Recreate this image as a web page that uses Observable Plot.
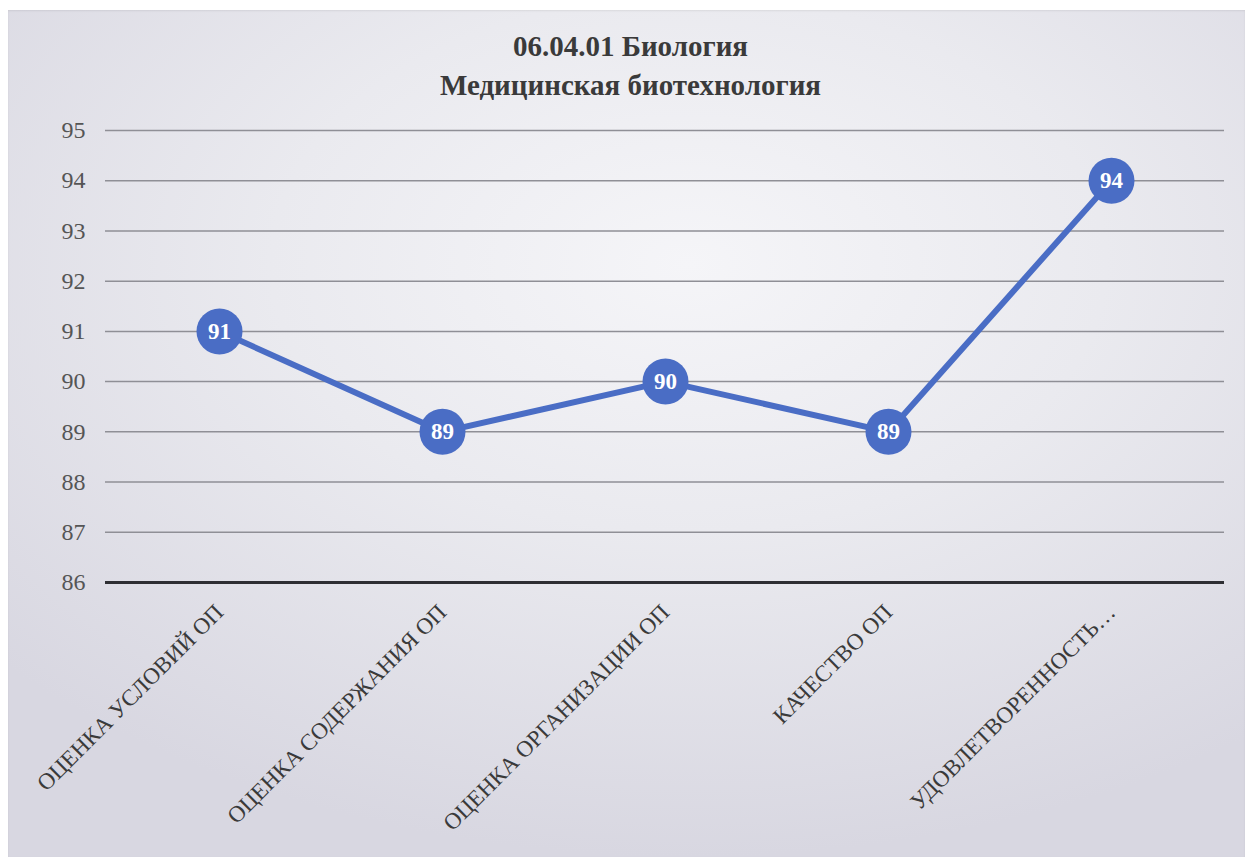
<!DOCTYPE html>
<html>
<head>
<meta charset="utf-8">
<script src="https://cdn.jsdelivr.net/npm/d3@7"></script>
<script src="https://cdn.jsdelivr.net/npm/@observablehq/plot@0.6"></script>
<style>
  html, body { margin: 0; padding: 0; }
  body {
    width: 1245px; height: 857px; overflow: hidden; position: relative; background: #ffffff;
    font-family: "Liberation Serif", "Times New Roman", "DejaVu Serif", serif;
  }
  #panel {
    position: absolute; left: 8px; top: 10px; right: 0; bottom: 0;
    background: radial-gradient(ellipse 75% 70% at 55% 30%, #f5f5f8 0%, #eaeaef 45%, #d8d7e1 100%);
    box-shadow: inset 0 1px 2px rgba(0,0,0,0.08);
  }
  #title {
    position: absolute; left: 0; top: 27px; width: 1245px; padding-left: 16px; box-sizing: border-box;
    text-align: center; font-weight: bold; font-size: 29px; line-height: 39px; color: #3a3a3a;
  }
  #chart { position: absolute; left: 0; top: 110px; }
  #chart svg text { font-family: "Liberation Serif", "Times New Roman", "DejaVu Serif", serif; }
</style>
</head>
<body>
<div id="panel"></div>
<div id="title">06.04.01 Биология<br>Медицинская биотехнология</div>
<div id="chart"></div>
<script>
const categories = [
  "ОЦЕНКА УСЛОВИЙ ОП",
  "ОЦЕНКА СОДЕРЖАНИЯ ОП",
  "ОЦЕНКА ОРГАНИЗАЦИИ ОП",
  "КАЧЕСТВО ОП",
  "УДОВЛЕТВОРЕННОСТЬ…"
];
const values = [91, 89, 90, 89, 94];
const yTicks = [86, 87, 88, 89, 90, 91, 92, 93, 94, 95];

const data = categories.map((c, i) => ({category: c, value: values[i]}));
const blue = "#4a6dc5";
const font = "'Liberation Serif', 'Times New Roman', 'DejaVu Serif', serif";

const chart = Plot.plot({
  width: 1245,
  height: 747,
  marginTop: 20,
  marginBottom: 275,
  marginLeft: 105,
  marginRight: 21,
  style: {background: "transparent", fontFamily: font},
  x: {type: "point", domain: categories, padding: 0.5, label: null},
  y: {domain: [86, 95], ticks: yTicks, label: null},
  marks: [
    Plot.ruleY(yTicks.filter(t => t !== 86), {stroke: "#8f8f96", strokeWidth: 1.5}),
    Plot.ruleY([86], {stroke: "#2e2e33", strokeWidth: 3}),
    Plot.axisY({ticks: yTicks, tickSize: 0, tickPadding: 20, fontSize: 24, fill: "#555", tickFormat: d => String(d), label: null}),
    Plot.axisX({tickSize: 0, tickPadding: 26, tickRotate: -45, fontSize: 23, fill: "#3a3a3a", label: null}),
    Plot.line(data, {x: "category", y: "value", stroke: blue, strokeWidth: 6}),
    Plot.dot(data, {x: "category", y: "value", r: 23, fill: blue, stroke: "none"}),
    Plot.text(data, {x: "category", y: "value", text: d => String(d.value), fill: "white", fontSize: 23, fontWeight: "bold"})
  ]
});
document.getElementById("chart").appendChild(chart);
</script>
</body>
</html>
